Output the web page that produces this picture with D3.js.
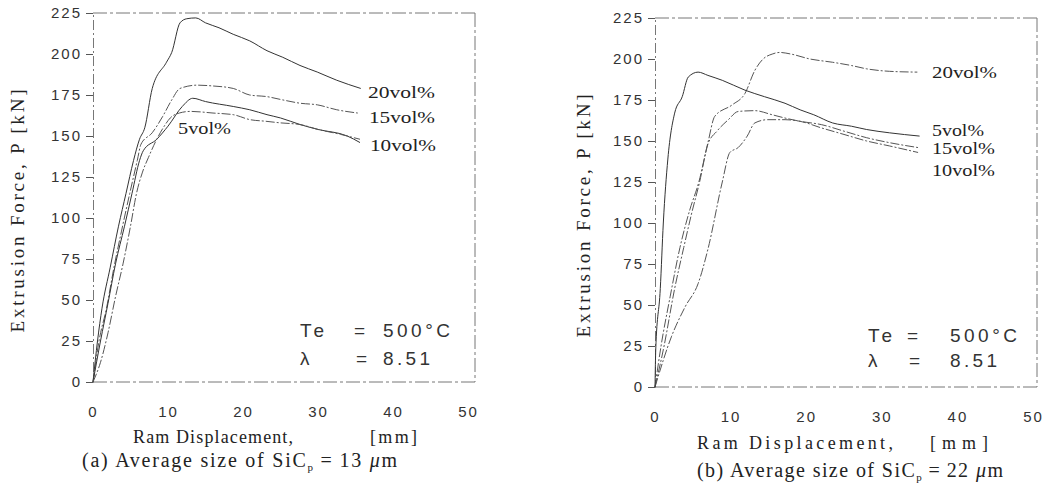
<!DOCTYPE html>
<html>
<head>
<meta charset="utf-8">
<script src="https://cdn.jsdelivr.net/npm/d3@7"></script>
<style>
  body { margin: 0; background: #fff; }
  svg { display: block; }
  .tick-num { font-family: "Liberation Sans", sans-serif; font-size: 15px; fill: #333; letter-spacing: 2px; }
  .ser { font-family: "Liberation Serif", serif; fill: #222; }
  .cond { font-family: "Liberation Sans", sans-serif; font-size: 19px; fill: #333; }
</style>
</head>
<body>
<script>
'use strict';

// axis ticks, shared by both panels
const xTicks = [0, 10, 20, 30, 40, 50];
const yTicks = [0, 25, 50, 75, 100, 125, 150, 175, 200, 225];
const seriesNames = ["20vol%", "15vol%", "10vol%", "5vol%"];

// (a) SiCp = 13 um : [displacement mm, force kN]
const a20 = [[0,0],[0.6,25],[1.2,45],[2.3,70],[3.4,95],[4.4,115],[5.4,135],[6.2,148],[6.9,155],[7.9,179],[9.8,195],[10.5,201],[11.6,219],[12.5,221.5],[13.7,222],[15,219],[16.8,216],[18.7,212],[20.9,208],[23.2,202],[25.3,198],[27.6,193],[29.9,189],[32.5,184],[35.7,179]];
const a15 = [[0,0],[0.8,25],[1.8,45],[2.8,70],[3.8,92],[4.9,115],[5.9,135],[6.4,145],[7.9,152],[9.3,162],[10.5,172],[11.6,179],[13.9,181],[16,180.5],[18.7,179],[20.9,175],[23.2,174],[25.3,172],[27.6,170],[29.9,169],[32.5,166],[35.3,164]];
const a10 = [[0,0],[1,25],[2,48],[3,72],[4.2,95],[5.2,115],[6.2,135],[6.7,141],[8.5,148],[10,156],[11.9,168],[13.3,173],[15,171],[18.7,168],[20.9,166],[23.2,163],[25,161],[27.6,157],[30,154],[33.9,150],[35.6,146]];
const a5 = [[0,0],[1,12],[2,30],[3,52],[4,72],[5,95],[5.8,115],[6.6,128],[7.4,137],[8.5,148],[9.5,156],[10.3,161],[11.5,164],[13,165],[16,164],[18.7,163],[20.9,160],[23,159],[25,158],[27.6,157],[30,154],[33,151],[35.6,148]];

// (b) SiCp = 22 um
const b20 = [[0,0],[0.8,25],[2,55],[3.3,85],[4.6,108],[5.8,125],[7,149],[7.9,165],[10.2,172],[11.9,179],[13.2,193],[14.3,200],[15.5,203],[16.5,204],[18,203],[20.5,200],[23.5,198],[26,196],[28,194],[31,192.5],[34.7,192]];
const b15 = [[0,0],[1.2,25],[2.6,60],[3.8,85],[4.8,105],[5.9,125],[7,148],[8.2,156],[9.7,163],[11,168],[13.2,168.5],[15.5,166],[17.2,164],[19.2,162],[22,160],[25,156],[28,152],[31,149],[34.8,146]];
const b10 = [[0,0],[2.2,31],[4,49],[5.7,63],[7,84],[8.9,125],[9.9,143],[11,146],[12.2,153],[13.2,161],[14.9,163],[17.2,163],[19.2,162],[22,158],[25,154],[28,150],[31,147],[34.8,143]];
const b5 = [[0,0],[0.1,23],[0.7,60],[1.1,100],[1.7,139],[2.6,167],[3.6,177],[4.4,189],[5.7,192],[7,190],[8.9,187],[11.9,181],[14.5,177],[17.2,173],[19.2,169],[21,166],[23.5,161],[26,159],[28,157],[31,155],[35,153]];

const svg = d3.select("body").append("svg")
  .attr("width", 1054)
  .attr("height", 496);

// stroke look of each curve (scanned dash-dot vs solid)
const solid = {stroke: "#333", dash: null};
const dashDot = {stroke: "#555", dash: "9,2,2,2"};

const panels = [
  {
    x0: 93, x1: 468, right: 475, y0: 382, y1: 13,
    series: [a20, a15, a10, a5],
    styles: [solid, dashDot, solid, dashDot],
    labels: [[368, 98], [369, 123], [370, 151], [178, 134]],
    labelW: [67, 66, 66, 53],
    yLabelX: 17, yLabelMid: 211,
    xLabelY: 443, ramX: [133, 293], mmX: [370, 417],
    cond: {x: 300, eqX: 354, valX: 383, y1: 337, y2: 365},
    caption: {x: 82, y: 467, tag: "(a)", size: "13", w: 315}
  },
  {
    x0: 655, x1: 1033, right: 1037, y0: 387, y1: 18,
    series: [b20, b15, b10, b5],
    styles: [dashDot, dashDot, dashDot, solid],
    labels: [[932, 78], [932, 154], [932, 176], [932, 136]],
    labelW: [65, 63, 63, 52],
    yLabelX: 583, yLabelMid: 216,
    xLabelY: 449, ramX: [697, 893], mmX: [930, 988],
    cond: {x: 868, eqX: 907, valX: 950, y1: 342, y2: 367},
    caption: {x: 697, y: 477, tag: "(b)", size: "22", w: 306}
  }
];

panels.forEach(drawPanel);

function drawPanel(p) {
  let x = d3.scaleLinear().domain([0, 50]).range([p.x0, p.x1]);
  let y = d3.scaleLinear().domain([0, 225]).range([p.y0, p.y1]);
  let g = svg.append("g");

  // frame, broken like the scan
  let frame = g.append("g")
    .attr("fill", "none")
    .attr("stroke", "#777")
    .attr("stroke-width", 1)
    .attr("stroke-dasharray", "14,3,3,3");
  frame.append("line").attr("x1", x(0)).attr("x2", p.right).attr("y1", y(225)).attr("y2", y(225));
  frame.append("line").attr("x1", x(0)).attr("x2", p.right).attr("y1", y(0)).attr("y2", y(0));
  frame.append("line").attr("x1", p.right).attr("x2", p.right).attr("y1", y(225)).attr("y2", y(0));

  // y axis with short outward ticks
  let yAxis = d3.axisLeft(y).tickValues(yTicks).tickSize(7).tickPadding(4);
  let ya = g.append("g")
    .attr("transform", "translate(" + x(0) + ",0)")
    .call(yAxis);
  ya.select(".domain").attr("stroke", "#777").attr("stroke-dasharray", "10,3,2,3");
  ya.selectAll(".tick line").attr("stroke", "#555");
  ya.selectAll("text").attr("class", "tick-num").attr("font-family", null).attr("font-size", null);

  // x axis labels only
  let xAxis = d3.axisBottom(x).tickValues(xTicks).tickSize(0).tickPadding(24);
  let xa = g.append("g")
    .attr("transform", "translate(0," + y(0) + ")")
    .call(xAxis);
  xa.select(".domain").remove();
  xa.selectAll("text").attr("class", "tick-num").attr("font-family", null).attr("font-size", null);

  // curves
  let line = d3.line()
    .x(function(d) { return x(d[0]); })
    .y(function(d) { return y(d[1]); })
    .curve(d3.curveMonotoneX);

  p.series.forEach(function(s, i) {
    g.append("path")
      .datum(s)
      .attr("fill", "none")
      .attr("stroke", p.styles[i].stroke)
      .attr("stroke-width", 1)
      .attr("stroke-dasharray", p.styles[i].dash)
      .attr("d", line);
  });

  // curve labels
  seriesNames.forEach(function(name, i) {
    g.append("text")
      .attr("class", "ser")
      .attr("x", p.labels[i][0])
      .attr("y", p.labels[i][1])
      .attr("font-size", 17)
      .attr("textLength", p.labelW[i])
      .attr("lengthAdjust", "spacingAndGlyphs")
      .text(name);
  });

  // extrusion conditions
  let c = p.cond;
  g.append("text").attr("class", "cond").attr("x", c.x).attr("y", c.y1).attr("letter-spacing", 4).text("Te");
  g.append("text").attr("class", "cond").attr("x", c.eqX).attr("y", c.y1).attr("fill", "#aaa").text("=");
  g.append("text").attr("class", "cond").attr("x", c.valX).attr("y", c.y1).attr("textLength", 67).text("500°C");
  g.append("text").attr("class", "cond").attr("x", c.x).attr("y", c.y2).text("λ");
  g.append("text").attr("class", "cond").attr("x", c.eqX + 2).attr("y", c.y2).attr("fill", "#777").text("=");
  g.append("text").attr("class", "cond").attr("x", c.valX).attr("y", c.y2).attr("textLength", 47).text("8.51");

  // y label
  g.append("text")
    .attr("class", "ser")
    .attr("transform", "translate(" + p.yLabelX + "," + p.yLabelMid + ")rotate(-90)")
    .attr("text-anchor", "middle")
    .attr("dy", "0.35em")
    .attr("font-size", 19)
    .attr("textLength", 243)
    .attr("lengthAdjust", "spacing")
    .text("Extrusion Force, P [kN]");

  // x label
  g.append("text")
    .attr("class", "ser")
    .attr("x", p.ramX[0]).attr("y", p.xLabelY)
    .attr("font-size", 18)
    .attr("textLength", p.ramX[1] - p.ramX[0])
    .attr("lengthAdjust", "spacing")
    .text("Ram Displacement,");
  g.append("text")
    .attr("class", "ser")
    .attr("x", p.mmX[0]).attr("y", p.xLabelY)
    .attr("font-size", 18)
    .attr("textLength", p.mmX[1] - p.mmX[0])
    .attr("lengthAdjust", "spacing")
    .text("[mm]");

  // caption, stretched to the width seen in the scan
  let cap = g.append("text")
    .attr("class", "ser")
    .attr("x", p.caption.x).attr("y", p.caption.y)
    .attr("font-size", 20)
    .attr("textLength", p.caption.w)
    .attr("lengthAdjust", "spacing")
    .attr("fill", "#111");
  cap.append("tspan").text(p.caption.tag + " Average size of SiC");
  cap.append("tspan").attr("font-size", 11).attr("dy", 4).text("p");
  cap.append("tspan").attr("dy", -4).text("\u2009=\u2009" + p.caption.size + " ");
  cap.append("tspan").attr("font-style", "italic").text("μ");
  cap.append("tspan").text("m");
}
</script>
</body>
</html>
